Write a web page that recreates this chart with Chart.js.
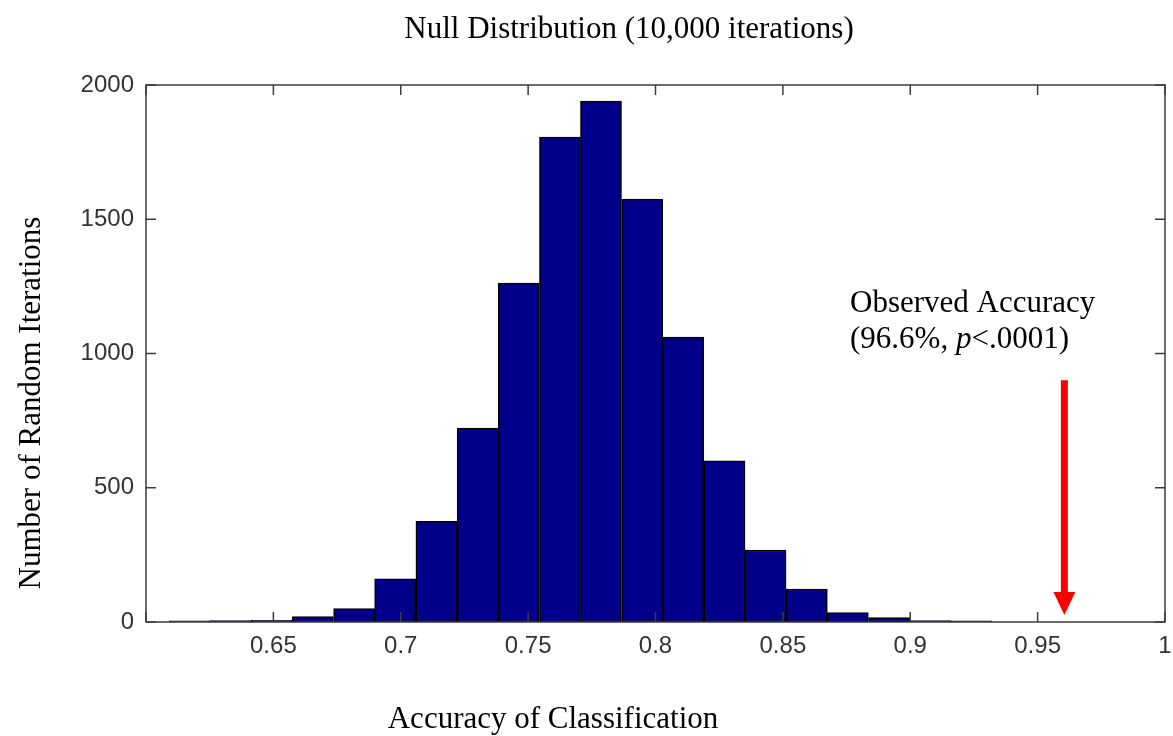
<!DOCTYPE html>
<html>
<head>
    <title>Null Distribution</title>
    <style>
        body { margin: 0; background: #fff; }
        #wrap { width: 1173px; height: 736px; }
    </style>
</head>
<body>
    <div id="wrap"><canvas id="nullChart"></canvas></div>

    <script src="https://cdn.jsdelivr.net/npm/chart.js"></script>
    <script>
        // histogram bins (centres) and counts
        var binCenters = [0.6171, 0.6332, 0.6494, 0.6655, 0.6817, 0.6978, 0.7140, 0.7302, 0.7463, 0.7625,
                          0.7786, 0.7948, 0.8109, 0.8271, 0.8432, 0.8594, 0.8755, 0.8917, 0.9078, 0.9240];
        var counts = [4, 5, 6, 20, 50, 161, 375, 722, 1262, 1806,
                      1940, 1575, 1061, 600, 268, 123, 35, 16, 5, 4];

        var xRange = [0.6, 1.0];
        var yRange = [0, 2000];
        var xStep = 0.05;
        var yStep = 500;

        // observed accuracy arrow (x value, y from / to)
        var arrowX = 0.9605;
        var arrowFrom = 900;
        var arrowTo = 26;

        var serif = '"Liberation Serif", "Times New Roman", serif';
        var sans = '"Liberation Sans", Arial, sans-serif';

        function line(ctx, x1, y1, x2, y2) {
            ctx.beginPath();
            ctx.moveTo(x1, y1);
            ctx.lineTo(x2, y2);
            ctx.stroke();
        }

        var overlay = {
            id: 'overlay',
            afterDatasetsDraw: function(chart) {
                var ctx = chart.ctx, a = chart.chartArea;
                var x = chart.scales.x, y = chart.scales.y;
                ctx.save();

                // axes box + inward ticks
                ctx.strokeStyle = '#3c3c3c';
                ctx.lineWidth = 1.5;
                ctx.strokeRect(a.left, a.top, a.right - a.left, a.bottom - a.top);
                x.ticks.forEach(function(t) {
                    var px = x.getPixelForValue(t.value);
                    line(ctx, px, a.bottom, px, a.bottom - 10);
                    line(ctx, px, a.top, px, a.top + 10);
                });
                y.ticks.forEach(function(t) {
                    var py = y.getPixelForValue(t.value);
                    line(ctx, a.left, py, a.left + 10, py);
                    line(ctx, a.right, py, a.right - 10, py);
                });

                // red arrow
                var ax = x.getPixelForValue(arrowX);
                var y1 = y.getPixelForValue(arrowFrom);
                var y2 = y.getPixelForValue(arrowTo);
                ctx.strokeStyle = '#ff0000';
                ctx.fillStyle = '#ff0000';
                ctx.lineWidth = 7;
                line(ctx, ax, y1, ax, y2 - 20);
                ctx.beginPath();
                ctx.moveTo(ax - 11, y2 - 23);
                ctx.lineTo(ax + 11, y2 - 23);
                ctx.lineTo(ax, y2);
                ctx.closePath();
                ctx.fill();

                // texts
                ctx.fillStyle = '#000';
                ctx.textBaseline = 'alphabetic';
                ctx.textAlign = 'center';
                ctx.font = '31px ' + serif;
                ctx.fillText('Null Distribution (10,000 iterations)', 629, 38);
                ctx.fillText('Accuracy of Classification', 553, 728);

                ctx.save();
                ctx.translate(40, 403);
                ctx.rotate(-Math.PI / 2);
                ctx.fillText('Number of Random Iterations', 0, 0);
                ctx.restore();

                ctx.textAlign = 'left';
                ctx.fillText('Observed Accuracy', 850, 312);
                var tx = 850;
                var parts = [['(96.6%, ', 'normal'], ['p', 'italic'], ['<.0001)', 'normal']];
                parts.forEach(function(p) {
                    ctx.font = (p[1] === 'italic' ? 'italic ' : '') + '31px ' + serif;
                    ctx.fillText(p[0], tx, 348);
                    tx += ctx.measureText(p[0]).width;
                });

                ctx.restore();
            }
        };

        var ctx = document.getElementById('nullChart').getContext('2d');
        var nullChart = new Chart(ctx, {
            type: 'bar',
            data: {
                datasets: [{
                    label: 'Iterations',
                    data: binCenters.map(function(c, i) { return { x: c, y: counts[i] }; }),
                    backgroundColor: '#00008b',
                    borderColor: '#000000',
                    borderWidth: 1.5,
                    borderSkipped: false,
                    barPercentage: 1,
                    categoryPercentage: 1
                }]
            },
            options: {
                responsive: true,
                maintainAspectRatio: false,
                animation: false,
                layout: { padding: { left: 0, top: 85, right: 0, bottom: 0 } },
                plugins: {
                    legend: { display: false },
                    title: { display: false },
                    tooltip: { enabled: false }
                },
                scales: {
                    x: {
                        type: 'linear',
                        min: xRange[0],
                        max: xRange[1],
                        offset: false,
                        grid: { display: false, drawTicks: false },
                        border: { display: false },
                        afterFit: function(s) {
                            s.height = 114;
                            s.paddingRight = 8;
                            s.paddingLeft = 0;
                        },
                        ticks: {
                            stepSize: xStep,
                            padding: 10,
                            maxRotation: 0,
                            color: '#333',
                            font: { family: sans, size: 24 },
                            callback: function(v) {
                                if (Math.abs(v - xRange[0]) < 1e-9) return '';
                                return String(Number(v.toFixed(2)));
                            }
                        }
                    },
                    y: {
                        min: yRange[0],
                        max: yRange[1],
                        grid: { display: false, drawTicks: false },
                        border: { display: false },
                        afterFit: function(s) { s.width = 146; },
                        ticks: {
                            stepSize: yStep,
                            padding: 12,
                            color: '#333',
                            font: { family: sans, size: 24 },
                            callback: function(v) { return String(v); }
                        }
                    }
                }
            },
            plugins: [overlay]
        });
    </script>
</body>
</html>
